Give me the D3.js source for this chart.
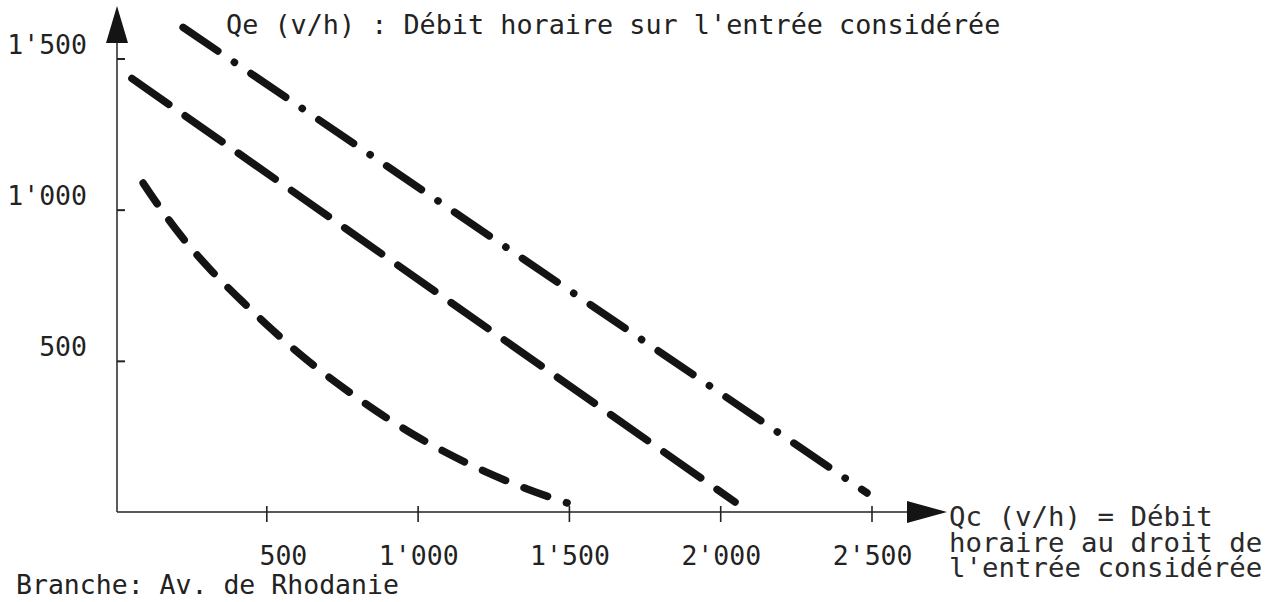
<!DOCTYPE html>
<html>
<head>
<meta charset="utf-8">
<script src="https://cdn.jsdelivr.net/npm/d3@7"></script>
<style>
  html, body { margin: 0; padding: 0; background: #fff; }
  svg { display: block; }
  text { font-family: "DejaVu Sans Mono", monospace; fill: #222; }
</style>
</head>
<body>
<svg id="chart" width="1276" height="602"></svg>
<script>
// ---- data ----
const xTickValues = [500, 1000, 1500, 2000, 2500];
const xTickLabels = ["500", "1'000", "1'500", "2'000", "2'500"];
const yTickValues = [500, 1000, 1500];
const yTickLabels = ["500", "1'000", "1'500"];

// dash-dot line (upper)
const lineA_qc = [225, 2485];
const lineA_qe = [1603, 63];
// dashed line (middle)
const lineB_qc = [56, 2049];
const lineB_qe = [1434, 33];
// dashed curve (lower)
const lineC_qc = [93, 142, 225, 314, 420, 516, 611, 734, 853, 975, 1097, 1229, 1362, 1494];
const lineC_qe = [1088, 1016, 905, 803, 697, 606, 522, 426, 341, 263, 195, 131, 76, 30];

const titleText = "Qe (v/h) : Débit horaire sur l'entrée considérée";
const xAxisTitle = ["Qc (v/h) = Débit", "horaire au droit de", "l'entrée considérée"];
const footText = "Branche: Av. de Rhodanie";

// ---- drawing ----
const svg = d3.select("#chart");
const x = d3.scaleLinear().domain([0, 2500]).range([115, 871.5]);
const y = d3.scaleLinear().domain([0, 1500]).range([512, 58.5]);

const ink = "#141414";
const axisX0 = 117;

// axes lines
svg.append("line").attr("x1", axisX0).attr("x2", 910).attr("y1", y(0)).attr("y2", y(0))
  .attr("stroke", "#222").attr("stroke-width", 1.6);
svg.append("line").attr("x1", axisX0).attr("x2", axisX0).attr("y1", y(0)).attr("y2", 40)
  .attr("stroke", "#333").attr("stroke-width", 1.6);

// arrowheads
svg.append("path").attr("d", `M${axisX0},6 L${axisX0 - 11},43 L${axisX0 + 11},43 Z`).attr("fill", ink);
svg.append("path").attr("d", `M947,${y(0)} L907,${y(0) - 11} L907,${y(0) + 11} Z`).attr("fill", ink);

// x ticks via d3 axis
const xAxis = d3.axisBottom(x).tickValues(xTickValues).tickSize(10).tickFormat("");
const gx = svg.append("g").attr("transform", `translate(0,${y(0)})`).call(xAxis);
gx.select(".domain").remove();
gx.selectAll(".tick line").attr("y1", -6).attr("stroke", "#222").attr("stroke-width", 1.6);

// y ticks via d3 axis
const yAxis = d3.axisLeft(y).tickValues(yTickValues).tickSize(8).tickFormat("");
const gy = svg.append("g").attr("transform", `translate(${axisX0},0)`).call(yAxis);
gy.select(".domain").remove();
gy.selectAll(".tick line").attr("x2", 8).attr("stroke", "#222").attr("stroke-width", 2);

// tick labels
svg.selectAll("text.xl").data(xTickValues).enter().append("text")
  .attr("class", "xl")
  .attr("x", d => x(d) + 41).attr("y", 565)
  .attr("text-anchor", "end").attr("font-size", 26.5)
  .text((d, i) => xTickLabels[i]);

svg.selectAll("text.yl").data(yTickValues).enter().append("text")
  .attr("class", "yl")
  .attr("x", 87).attr("y", d => y(d) - 5)
  .attr("text-anchor", "end").attr("font-size", 26.5)
  .text((d, i) => yTickLabels[i]);

// titles
svg.append("text").attr("x", 226).attr("y", 34).attr("font-size", 26.8).text(titleText);

const xt = svg.append("text").attr("x", 949).attr("y", 526)
  .attr("font-size", 27.4).style("fill", "#2a2a2a");
xt.selectAll("tspan").data(xAxisTitle).enter().append("tspan")
  .attr("x", 949).attr("dy", (d, i) => i === 0 ? 0 : 25.5)
  .text(d => d);

svg.append("text").attr("x", 16).attr("y", 594).attr("font-size", 26.5).text(footText);

// lines
const line = d3.line().x(d => x(d[0])).y(d => y(d[1]));
const lineSmooth = d3.line().x(d => x(d[0])).y(d => y(d[1])).curve(d3.curveMonotoneX);

const dataA = lineA_qc.map((v, i) => [v, lineA_qe[i]]);
const dataB = lineB_qc.map((v, i) => [v, lineB_qe[i]]);
const dataC = lineC_qc.map((v, i) => [v, lineC_qe[i]]);

svg.append("path").datum(dataA).attr("d", line)
  .attr("fill", "none").attr("stroke", ink).attr("stroke-width", 7.5)
  .attr("stroke-linecap", "round").attr("stroke-dasharray", "42,20,0.1,20");

svg.append("path").datum(dataB).attr("d", line)
  .attr("fill", "none").attr("stroke", ink).attr("stroke-width", 7.5)
  .attr("stroke-linecap", "round").attr("stroke-dasharray", "45,20");

svg.append("path").datum(dataC).attr("d", lineSmooth)
  .attr("fill", "none").attr("stroke", ink).attr("stroke-width", 7.5)
  .attr("stroke-linecap", "round").attr("stroke-dasharray", "25,20");
</script>
</body>
</html>
